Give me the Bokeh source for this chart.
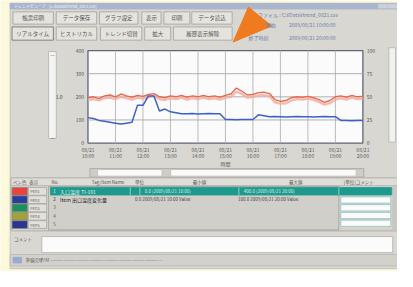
from bokeh.plotting import figure
from bokeh.models import Range1d, ColumnDataSource
from bokeh.core.properties import value
from bokeh.embed import file_html
from bokeh.resources import INLINE

FONT = "Noto Sans CJK JP"

# ---------------- data ----------------
t_ticks = [0, 10, 20, 30, 40, 50, 60, 70, 80, 90, 100]
date_labels = ["08/21"] * 11
time_labels = ["10:00", "11:00", "12:00", "13:00", "14:00", "15:00",
               "16:00", "17:00", "18:00", "19:00", "20:00"]
v_ticks = [0, 100, 200, 300, 400]
left_tick_labels = ["0", "100", "200", "300", "400"]
right_tick_labels = ["0", "25", "50", "75", "100"]

t = list(range(0, 101, 2))
red = [196, 200, 192, 204, 208, 200, 212, 204, 198, 206, 202, 210, 214, 200, 196, 204,
       200, 206, 198, 204, 200, 206, 200, 204, 198, 206, 212, 238, 224, 208, 210, 218,
       220, 214, 188, 180, 184, 196, 200, 198, 202, 196, 188, 176, 184, 200, 204, 198,
       206, 200, 202]
pink = [186, 190, 184, 194, 196, 190, 200, 194, 188, 196, 192, 198, 204, 190, 186, 194,
        190, 196, 188, 194, 190, 196, 190, 194, 188, 196, 200, 222, 212, 196, 200, 206,
        208, 202, 176, 170, 172, 184, 190, 188, 192, 186, 178, 166, 172, 188, 194, 188,
        196, 190, 192]
blue = [110, 106, 98, 94, 90, 86, 82, 86, 90, 163, 163, 204, 204, 139, 147, 135,
        131, 127, 127, 128, 126, 127, 128, 127, 127, 102, 102, 101, 102, 102, 102, 122,
        118, 114, 115, 114, 113, 114, 115, 114, 114, 113, 114, 115, 114, 114, 98, 98,
        97, 98, 98]

pen_colors = ["#e8443c", "#2b3c9e", "#18915a", "#a3a236", "#2a3590"]
pen_names = ["Pen1", "Pen2", "Pen3", "Pen4", "Pen5"]
row_numbers = ["1", "2", "3", "4", "5"]
row_items = ["入口温度 TI-101", "Item 出口温度変化量", "", "", ""]
row_min = ["0.0  (2009/08/21 10:00)", "0.0  2009/08/21 10:00  Value", "", "", ""]
row_max = ["400.0  (2009/08/21 20:00)", "100.0  2009/08/21 20:00  Value", "", "", ""]

buttons_row1 = ["帳票印刷", "データ保存", "グラフ設定", "表示", "印刷", "データ読込"]
buttons_row2 = ["リアルタイム", "ヒストリカル", "トレンド切替", "拡大", "履歴表示解除"]

# ---------------- layout (image pixel space 413 x 287) ----------------
IMG_W, IMG_H = 413, 287
PL, PR, PT, PB = 91, 377, 53, 151          # plot area of the trend chart
T0, T1 = t_ticks[0], t_ticks[-1]
V0, V1 = v_ticks[0], v_ticks[-1]

p = figure(width=397, height=271, output_backend="svg", toolbar_location=None,
           x_range=Range1d(0, IMG_W), y_range=Range1d(IMG_H, 0),
           min_border=0, min_border_left=0, min_border_right=0,
           min_border_top=0, min_border_bottom=0)
p.axis.visible = False
p.grid.visible = False
p.outline_line_color = None
p.background_fill_color = "#fcf8db"
p.border_fill_color = "#fcf8db"

# data ranges for the trend chart, aligned with its plot area
tpp = (T1 - T0) / (PR - PL)
vpp = (V1 - V0) / (PB - PT)
p.extra_x_ranges = {"t": Range1d(T0 - PL * tpp, T1 + (IMG_W - PR) * tpp)}
p.extra_y_ranges = {"v": Range1d(V0 - (IMG_H - PB) * vpp, V1 + PT * vpp)}

# ---------------- chrome ----------------
boxes = dict(l=[], t=[], r=[], b=[], fill=[], line=[])


def box(l, t_, r, b, fill, line=None):
    boxes["l"].append(l); boxes["t"].append(t_)
    boxes["r"].append(r); boxes["b"].append(b)
    boxes["fill"].append(fill); boxes["line"].append(line if line else fill)


box(10, 3, 413, 284, "#d9d7d2", "#bdbbb5")        # window
box(10, 3, 413, 9, "#a9b5cd")                     # title bar
box(393, 4, 402, 8, "#cdd1da")
box(403, 4, 412, 8, "#cdd1da")
row1 = [(13, 55), (58, 100), (103, 143), (147, 167), (170, 197), (199, 241)]
for a, c in row1:
    box(a, 12, c, 25, "#e5e3de", "#a3a19b")
row2 = [(12, 55), (58, 100), (104, 147), (150, 177), (180, 241)]
for i, (a, c) in enumerate(row2):
    box(a, 28, c, 42, "#e5e3de", "#6e6c68" if i == 0 else "#a3a19b")
box(50, 54, 58, 146, "#f4f4f2", "#b4b2ac")        # left slider
box(404, 50, 411, 150, "#f1f1ef", "#b4b2ac")      # right slider
box(93, 178, 378, 187, "#cfcdc8", "#a8a6a0")      # scrollbar
box(101, 179, 168, 186, "#fafafa", "#c0beb8")
box(177, 179, 370, 186, "#fafafa", "#c0beb8")
box(11, 188, 413, 244, "#d6d4cf", "#a8a6a0")      # table
box(11, 188, 413, 196, "#dfddd8", "#b4b2ac")
box(50, 197, 352, 243, "#d1cfca", "#a09e98")
box(408, 197, 413, 243, "#c9c7c2")
box(52, 198, 407, 206, "#1d9a8d")                 # selected row
for i, c in enumerate(pen_colors):
    y0 = 198 + i * 8.8
    box(12, y0, 28, y0 + 8.2, c, "#8a8884")
    box(29, y0, 48, y0 + 8.2, "#e2e0db", "#a8a6a0")
for i in range(4):
    y0 = 208 + i * 8.2
    box(354, y0, 406, y0 + 6.6, "#fbfbfb", "#8fc4bf")
box(43, 250, 408, 267, "#fbfbfb", "#b0aea8")      # comment box
box(10, 269, 413, 281, "#d3d1cc", "#b8b6b0")      # status bar
box(13, 272, 22, 278, "#9aaad0")

p.quad(left="l", right="r", top="t", bottom="b", fill_color="fill",
       line_color="line", line_width=0.8, source=ColumnDataSource(boxes))

# separators in the selected row
p.segment(x0=[135, 145, 248, 352], y0=[198] * 4, x1=[135, 145, 248, 352], y1=[206] * 4,
          line_color="#bfe3de", line_width=0.7)

# orange arrow marker
p.patch([258, 282, 242], [7, 27, 44], fill_color="#f07a1e", line_color="#f07a1e")

# ---------------- chart ----------------
p.quad(left=[PL], right=[PR], top=[PT], bottom=[PB], fill_color="#fbfbfb",
       line_color="#5e6676", line_width=1.3)
vt = t_ticks[1:-1]
p.segment(x0=vt, y0=[V0] * len(vt), x1=vt, y1=[V1] * len(vt),
          x_range_name="t", y_range_name="v", line_color="#b4b4b4", line_width=0.9)
hv = v_ticks[1:-1]
p.segment(x0=[T0] * len(hv), y0=hv, x1=[T1] * len(hv), y1=hv,
          x_range_name="t", y_range_name="v", line_color="#a8a8a8", line_width=0.9)

p.line(t, pink, x_range_name="t", y_range_name="v", line_color="#f3ab9f",
       line_width=2.2, line_alpha=0.85)
p.line(t, red, x_range_name="t", y_range_name="v", line_color="#e8684e", line_width=1.4)
p.line(t, blue, x_range_name="t", y_range_name="v", line_color="#3d5fc9", line_width=1.5)

txt = dict(text_font=value(FONT), text_baseline="middle")

p.text(x=[PL - 4] * len(v_ticks), y=v_ticks, text=left_tick_labels,
       y_range_name="v", text_align="right", text_font_size="5px",
       text_color="#555555", **txt)
p.text(x=[PR + 4] * len(v_ticks), y=v_ticks, text=right_tick_labels,
       y_range_name="v", text_align="left", text_font_size="5px",
       text_color="#555555", **txt)
p.text(x=t_ticks, y=[158] * len(t_ticks), text=date_labels, x_range_name="t",
       text_align="center", text_font_size="5px", text_color="#5a5a5a", **txt)
p.text(x=t_ticks, y=[164] * len(t_ticks), text=time_labels, x_range_name="t",
       text_align="center", text_font_size="5px", text_color="#5a5a5a", **txt)
p.text(x=[(T0 + T1) / 2], y=[173], text=["時間"], x_range_name="t",
       text_align="center", text_font_size="5px", text_color="#555555", **txt)
p.text(x=[54, 54, 61], y=[57, 145, 102], text=["—", "—", "1.0"],
       text_align="center", text_font_size="5px", text_color="#444444", **txt)

# ---------------- chrome texts ----------------
p.text(x=[14], y=[6], text=["トレンドビューア - [C:¥Data¥trend_0821.csv]"],
       text_align="left", text_font_size="4px", text_color="#f2f4fa", **txt)
p.text(x=[(a + c) / 2 for a, c in row1], y=[18.5] * len(row1), text=buttons_row1,
       text_align="center", text_font_size="5.5px", text_color="#555555", **txt)
p.text(x=[(a + c) / 2 for a, c in row2], y=[35] * len(row2), text=buttons_row2,
       text_align="center", text_font_size="5.5px", text_color="#555555", **txt)
p.text(x=[268, 276, 300, 258, 300], y=[15, 25, 25, 39, 39],
       text=["ファイル : C:¥Data¥trend_0821.csv", "開始", "2009/08/21 10:00:00",
             "終了時刻", "2009/08/21 20:00:00"],
       text_align="left", text_font_size="5px", text_color="#6a7ea8", **txt)

p.text(x=[13, 30, 53, 95, 140, 200, 300, 357], y=[192] * 8,
       text=["ペン色", "表示", "No.", "Tag/Item Name", "単位", "最小値", "最大値", "[単位]コメント"],
       text_align="left", text_font_size="4.5px", text_color="#555555", **txt)
p.text(x=[31] * 5, y=[198 + i * 8.8 + 4.1 for i in range(5)], text=pen_names,
       text_align="left", text_font_size="4px", text_color="#666666", **txt)
p.text(x=[55] * 5, y=[202, 210.5, 219, 228, 237], text=row_numbers,
       text_align="left", text_font_size="4.5px",
       text_color=["#e8f6f4", "#222222", "#555555", "#555555", "#555555"], **txt)
p.text(x=[62, 62], y=[202, 210.5], text=row_items[:2], text_align="left",
       text_font_size="5px", text_color=["#e8f6f4", "#222222"], **txt)
p.text(x=[150, 140], y=[202, 210.5], text=row_min[:2], text_align="left",
       text_font_size="4.5px", text_color=["#d8f0ec", "#444444"], **txt)
p.text(x=[253, 247], y=[202, 210.5], text=row_max[:2], text_align="left",
       text_font_size="4.5px", text_color=["#d8f0ec", "#444444"], **txt)
p.text(x=[14], y=[253], text=["コメント"], text_align="left",
       text_font_size="4.5px", text_color="#555555", **txt)
p.text(x=[26, 40], y=[275, 275], text=["準備完了", "NUM  ―――――――――――――――――――――――――"],
       text_align="left", text_font_size="4.5px", text_color="#666666", **txt)

open("out.html", "w").write(file_html(p, INLINE))
